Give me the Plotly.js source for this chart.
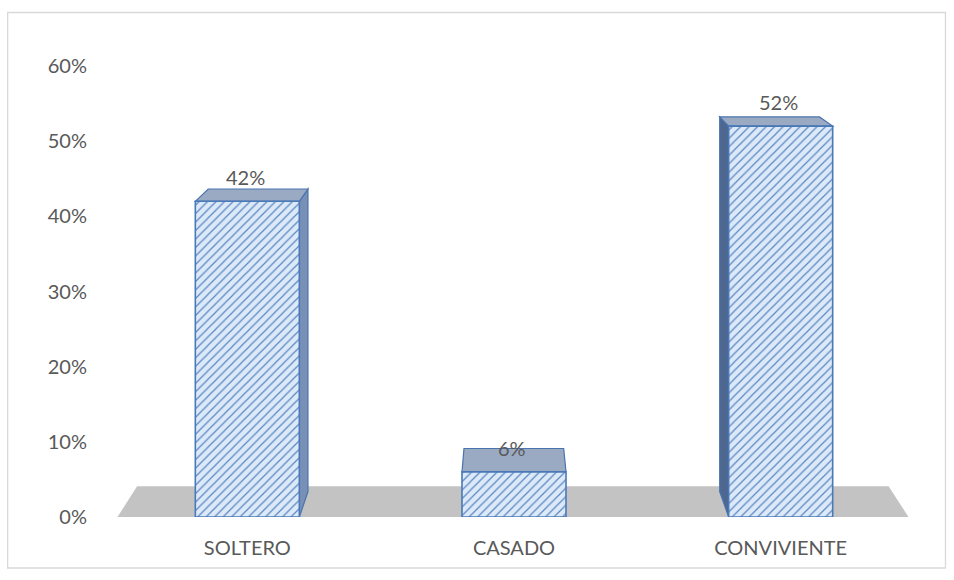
<!DOCTYPE html>
<html>
<head>
<meta charset="utf-8">
<script src="https://cdn.plot.ly/plotly-3.0.1.min.js"></script>
<style>html,body{margin:0;padding:0;background:#fff;}#chart{width:954px;height:580px;}</style>
</head>
<body>
<div id="chart"></div>
<script>
// ---- data ----
const categories = ["SOLTERO", "CASADO", "CONVIVIENTE"];
const values = [0.42, 0.06, 0.52];
const labels = ["42%", "6%", "52%"];
const yTicks = [0, 0.1, 0.2, 0.3, 0.4, 0.5, 0.6];

// ---- geometry ----
const W = 954, H = 580;
const M = {l: 113.5, r: 39.5, t: 66, b: 63};
const PW = W - M.l - M.r, PH = H - M.t - M.b;
const xr = [-0.5, 2.5], yr = [0, 0.6];
const barW = 0.39;
const px = x => M.l + (x - xr[0]) / (xr[1] - xr[0]) * PW;
const py = v => M.t + PH * (1 - (v - yr[0]) / (yr[1] - yr[0]));
const ix = p => xr[0] + (p - M.l) / PW * (xr[1] - xr[0]);
const iy = p => yr[0] + (1 - (p - M.t) / PH) * (yr[1] - yr[0]);
const V = [510, -99];
const back = (p, s) => [p[0] + s * (V[0] - p[0]), p[1] + s * (V[1] - p[1])];
const toPath = pts => 'M' + pts.map(p => ix(p[0]).toFixed(5) + ',' + iy(p[1]).toFixed(5)).join('L') + 'Z';

const shapes = [];
// floor
const f0 = [px(-0.5) + 3.5, py(0)], f1 = [px(2.5) - 5.5, py(0)];
shapes.push({type: 'path', xref: 'x', yref: 'y', layer: 'below',
  path: toPath([f0, f1, back(f1, 0.05), back(f0, 0.05)]),
  fillcolor: '#c3c3c3', line: {width: 0}});
// 3D faces
const sb = 0.041;
values.forEach((v, i) => {
  const xl = px(i - barW / 2), xrr = px(i + barW / 2), yt = py(v), yb = py(0);
  const TL = [xl, yt], TR = [xrr, yt], BL = [xl, yb], BR = [xrr, yb];
  const line = {color: '#4a74ad', width: 1.2};
  if (px(i) < V[0] - 20) {
    shapes.push({type: 'path', xref: 'x', yref: 'y', layer: 'below',
      path: toPath([BR, TR, back(TR, sb), back(BR, sb)]), fillcolor: '#7990b6', line});
  } else if (px(i) > V[0] + 20) {
    shapes.push({type: 'path', xref: 'x', yref: 'y', layer: 'below',
      path: toPath([BL, TL, back(TL, sb), back(BL, sb)]), fillcolor: '#4d6790', line});
  }
  shapes.push({type: 'path', xref: 'x', yref: 'y', layer: 'below',
    path: toPath([TL, TR, back(TR, sb), back(TL, sb)]), fillcolor: '#9aaac3', line});
});
// chart border
shapes.push({type: 'rect', xref: 'paper', yref: 'paper',
  x0: (7 - M.l) / PW, x1: (946 - M.l) / PW, y0: 1 - (568 - M.t) / PH, y1: 1 - (12.5 - M.t) / PH,
  line: {color: '#d9d9d9', width: 1.3}, fillcolor: 'rgba(0,0,0,0)'});

const font = {family: 'Lato, "Open Sans", sans-serif', size: 20, color: '#595959', weight: 400};

const trace = {
  type: 'bar', x: [0, 1, 2], y: values, width: barW,
  marker: {color: '#dce9f8', line: {color: '#4a79b8', width: 1.6},
    pattern: {shape: '/', fgcolor: '#5a86c2', bgcolor: '#dce9f8', size: 6, solidity: 0.2}},
  hoverinfo: 'none'
};

const annotations = values.map((v, i) => ({
  x: i, y: v, xref: 'x', yref: 'y', text: labels[i], showarrow: false,
  yanchor: 'bottom', yshift: 10, xshift: -2, font
}));

const layout = {
  width: W, height: H, margin: M, showlegend: false,
  paper_bgcolor: '#fff', plot_bgcolor: 'rgba(0,0,0,0)',
  font,
  xaxis: {range: xr, tickvals: [0, 1, 2], ticktext: categories, showgrid: false,
    zeroline: false, showline: false, ticks: '', ticklabelstandoff: 17, tickfont: font},
  yaxis: {range: yr, tickvals: yTicks, tickformat: '.0%', showgrid: false,
    zeroline: false, showline: false, ticks: '', ticklabelstandoff: 26, tickfont: font},
  shapes, annotations
};

Plotly.newPlot('chart', [trace], layout, {displayModeBar: false, staticPlot: true});
</script>
</body>
</html>
